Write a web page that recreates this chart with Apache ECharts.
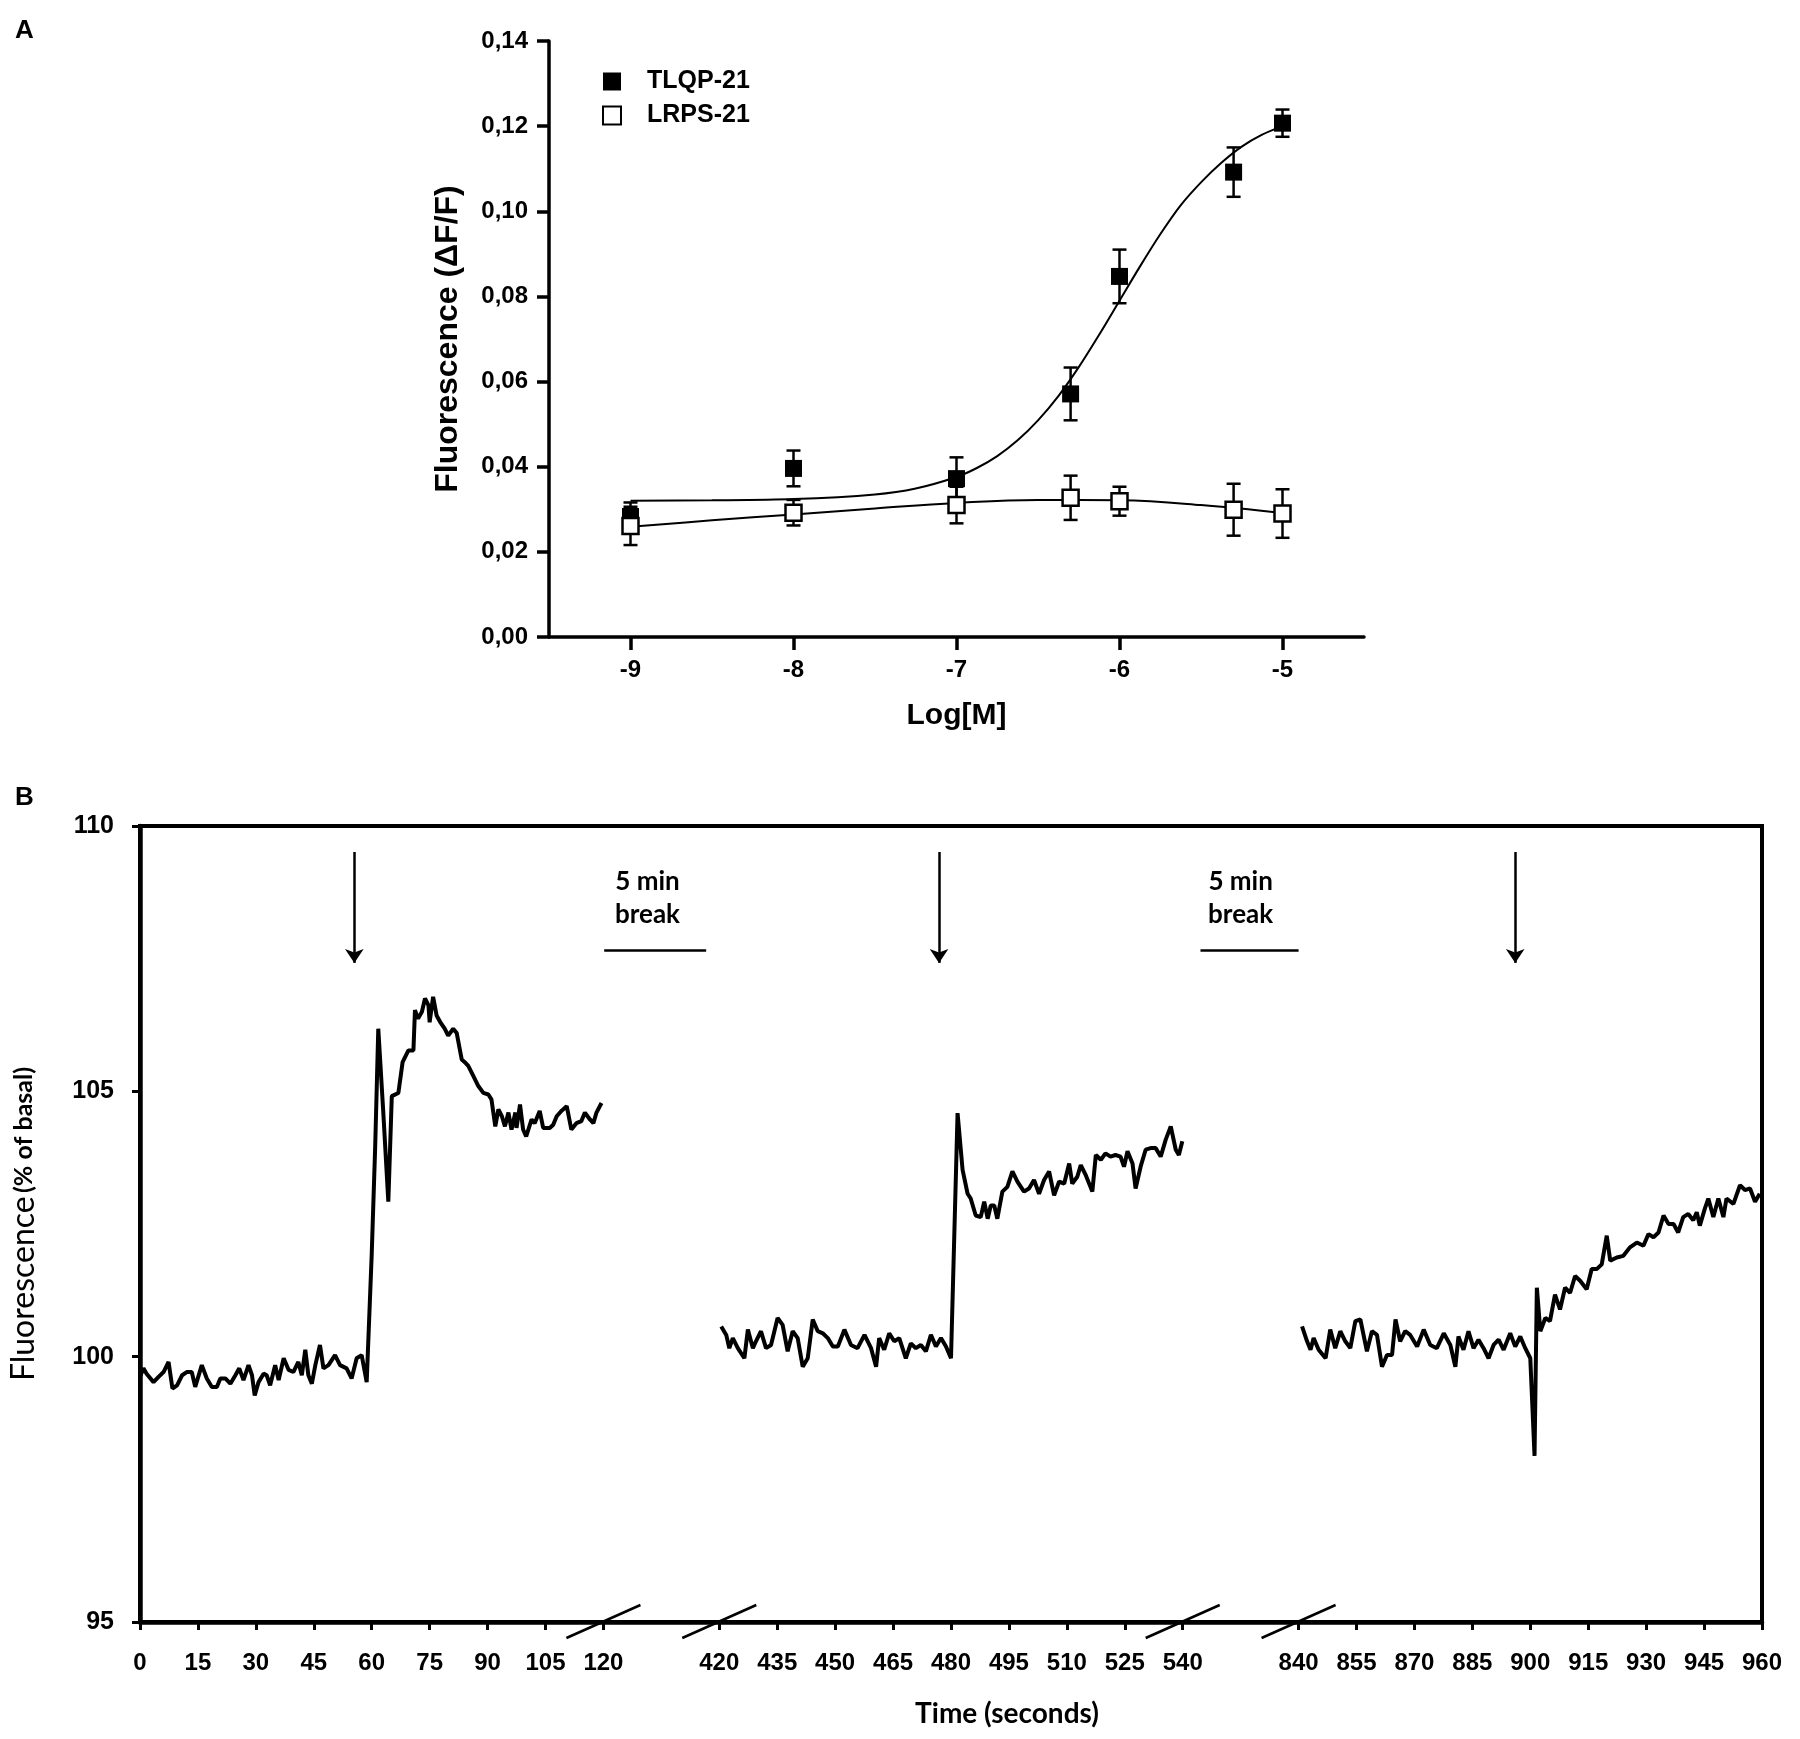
<!DOCTYPE html>
<html>
<head>
<meta charset="utf-8">
<script src="https://cdn.jsdelivr.net/npm/echarts@6/dist/echarts.min.js"></script>
<style>
  html, body { margin: 0; padding: 0; background: #fff; }
  #main { width: 1800px; height: 1739px; }
</style>
</head>
<body>
<div id="main"></div>
<script>
// ---------- Panel A data ----------
const A_logM = [-9, -8, -7, -6.3, -6, -5.3, -5];
const A_tlqp = [0.0283, 0.0396, 0.0372, 0.0571, 0.0847, 0.1092, 0.1207];
const A_tlqpErr = [0.0033, 0.0042, 0.0050, 0.0062, 0.0063, 0.0058, 0.0032];
const A_lrps = [0.0261, 0.0292, 0.0310, 0.0327, 0.0319, 0.0299, 0.0290];
const A_lrpsErr = [0.0045, 0.0030, 0.0043, 0.0052, 0.0034, 0.0061, 0.0057];
// fitted curves
const A_fitTlqpX = [-9, -8.5, -8, -7.5, -7.25, -7, -6.875, -6.75, -6.625, -6.5, -6.375, -6.25, -6.125, -6, -5.875, -5.75, -5.625, -5.5, -5.375, -5.25, -5.125, -5];
const A_fitTlqpY = [0.0320, 0.0321, 0.0324, 0.0335, 0.0349, 0.0376, 0.0397, 0.0425, 0.0462, 0.0509, 0.0566, 0.0634, 0.0710, 0.0790, 0.0870, 0.0946, 0.1014, 0.1068, 0.1114, 0.1152, 0.1180, 0.1200];
const A_fitLrpsX = [-9, -8.5, -8, -7.5, -7, -6.5, -6, -5.5, -5];
const A_fitLrpsY = [0.0259, 0.0274, 0.0288, 0.0302, 0.0315, 0.0322, 0.0321, 0.0310, 0.0291];
const A_xTicks = [-9, -8, -7, -6, -5];

// ---------- Panel B data: [time (s), fluorescence (% of basal)] ----------
const B_seg1 = [
[0,99.62],[0.9,99.78],[1.7,99.68],[3.5,99.52],[4.8,99.62],[6.1,99.71],[7.4,99.90],[8.4,99.40],[9.6,99.46],[10.9,99.65],
[12.1,99.71],[13.4,99.71],[14.3,99.43],[16.0,99.84],[17.3,99.59],[18.6,99.43],[19.9,99.43],[20.8,99.59],[22.1,99.59],[23.4,99.49],
[24.7,99.65],[25.7,99.78],[26.8,99.56],[28.1,99.84],[29.0,99.65],[29.7,99.27],[30.7,99.52],[32.0,99.68],[32.8,99.65],[33.7,99.46],
[35.0,99.84],[35.9,99.56],[37.2,99.97],[38.5,99.75],[39.7,99.71],[41.0,99.90],[41.9,99.65],[42.8,100.13],[43.6,99.65],[44.5,99.49],
[45.4,99.84],[46.6,100.22],[47.5,99.78],[48.8,99.84],[50.5,100.03],[51.8,99.84],[53.5,99.78],[54.8,99.59],[56.1,99.97],[57.4,100.03],
[58.7,99.52],[60.0,101.93],[60.9,103.96],[61.7,106.18],[63.0,104.60],[64.3,102.92],[65.2,104.91],[66.9,104.97],[68.0,105.55],[69.5,105.77],
[70.8,105.77],[71.2,106.53],[72.0,106.37],[73.0,106.50],[73.8,106.75],[74.7,106.62],[75.0,106.30],[75.9,106.78],[76.8,106.43],[77.7,106.31],
[78.9,106.18],[79.8,106.05],[81.1,106.18],[82.0,106.10],[83.3,105.60],[84.1,105.55],[85.0,105.48],[86.3,105.29],[87.6,105.10],[88.9,104.97],
[90.2,104.94],[91.0,104.85],[92.0,104.34],[92.8,104.66],[93.7,104.53],[94.5,104.34],[95.4,104.60],[96.2,104.28],[97.2,104.60],[97.5,104.31],
[98.4,104.75],[99.2,104.28],[100.0,104.15],[101.4,104.47],[102.2,104.40],[103.5,104.63],[104.4,104.31],[106.1,104.31],[107.0,104.37],[107.9,104.53],
[109.1,104.63],[110.5,104.72],[111.7,104.28],[113.0,104.40],[114.3,104.44],[115.2,104.60],[116.5,104.47],[117.4,104.40],[118.2,104.60],[119.5,104.78]
];
const B_seg2 = [
[420.5,100.57],[421.8,100.41],[422.6,100.16],[423.5,100.35],[424.8,100.16],[426.5,99.97],[427.4,100.51],[428.7,100.16],[429.5,100.29],[430.8,100.48],
[432.1,100.16],[433.4,100.22],[435.1,100.73],[436.4,100.60],[437.7,100.10],[439.0,100.48],[440.3,100.35],[441.6,99.81],[442.9,99.97],[444.2,100.70],
[445.5,100.48],[446.8,100.44],[448.1,100.35],[449.4,100.19],[450.7,100.19],[452.4,100.51],[454.1,100.22],[455.8,100.16],[457.6,100.41],[459.3,100.16],
[460.6,99.81],[461.4,100.35],[462.7,100.13],[464.0,100.44],[465.3,100.29],[466.6,100.35],[468.3,99.97],[469.6,100.25],[470.9,100.16],[472.2,100.22],
[473.5,100.10],[474.8,100.41],[476.1,100.19],[477.4,100.35],[478.7,100.19],[480.0,99.97],[481.7,104.59],[483.0,103.52],[484.3,103.07],[485.1,102.98],
[486.4,102.66],[487.7,102.63],[488.6,102.92],[489.5,102.60],[490.3,102.85],[491.2,102.85],[492.0,102.60],[493.3,103.11],[494.6,103.20],[495.9,103.49],
[497.2,103.30],[498.9,103.11],[500.2,103.17],[501.5,103.33],[502.8,103.07],[504.1,103.33],[505.4,103.49],[506.7,103.04],[508.0,103.30],[509.3,103.26],
[510.6,103.64],[511.4,103.26],[512.7,103.39],[513.6,103.61],[514.9,103.42],[516.6,103.11],[517.5,103.80],[518.8,103.71],[520.0,103.83],[521.3,103.77],
[522.6,103.80],[523.9,103.77],[524.8,103.58],[525.7,103.87],[527.0,103.64],[527.8,103.17],[529.1,103.58],[530.4,103.90],[531.7,103.93],[533.0,103.93],
[534.3,103.77],[535.6,104.09],[536.9,104.34],[538.2,103.90],[539.0,103.80],[539.9,104.06]
];
const B_seg3 = [
[840.9,100.57],[842.2,100.29],[843.1,100.13],[843.9,100.35],[845.2,100.13],[847.0,99.97],[848.2,100.51],[849.5,100.16],[850.8,100.48],[852.1,100.29],
[853.4,100.16],[854.7,100.67],[856.0,100.70],[857.7,100.10],[859.0,100.48],[860.3,100.41],[861.6,99.81],[862.9,100.03],[864.2,100.03],[865.1,100.70],
[866.3,100.29],[867.6,100.48],[868.9,100.41],[870.7,100.19],[872.4,100.51],[874.1,100.22],[875.8,100.16],[877.6,100.44],[879.3,100.22],[880.6,99.81],
[881.4,100.38],[882.7,100.13],[884.0,100.48],[885.3,100.16],[886.6,100.32],[887.9,100.16],[889.2,99.97],[890.5,100.22],[891.8,100.32],[893.1,100.13],
[894.8,100.44],[896.1,100.19],[897.4,100.38],[898.7,100.16],[900.0,99.97],[901.1,98.13],[901.7,101.30],[902.6,100.48],[903.9,100.73],[905.1,100.67],
[906.4,101.17],[907.7,100.89],[909.0,101.30],[910.3,101.20],[911.6,101.52],[912.9,101.43],[914.6,101.27],[915.9,101.65],[917.2,101.65],[918.5,101.74],
[919.8,102.28],[920.7,101.81],[922.4,101.87],[924.1,101.90],[925.8,102.06],[927.6,102.15],[929.3,102.09],[930.6,102.31],[931.9,102.25],[933.2,102.34],
[934.5,102.66],[935.8,102.50],[937.1,102.50],[938.3,102.34],[939.6,102.63],[940.9,102.69],[942.2,102.57],[943.1,102.72],[943.9,102.47],[945.2,102.79],
[946.1,102.98],[947.4,102.63],[948.7,102.98],[950.0,102.63],[950.8,102.98],[952.6,102.88],[954.3,103.23],[955.6,103.14],[956.9,103.17],[958.2,102.92],
[959.4,103.07]
];
const B_tickTimes = [0,15,30,45,60,75,90,105,120,420,435,450,465,480,495,510,525,540,840,855,870,885,900,915,930,945,960];
const B_breakEdges = [120, 420, 540, 840];
const B_arrowTimes = [55.5, 476.9, 896.1];

// broken time axis: each 120 s recording window is shown with a 30 s-wide gap
function axisPos(t) {
  if (t <= 120) return t;
  if (t <= 540) return t - 420 + 150;
  return t - 840 + 300;
}
function axisTime(p) {
  if (p <= 120) return p;
  if (p <= 270) return p - 150 + 420;
  return p - 300 + 840;
}

const FONT = 'Liberation Sans';
const chart = echarts.init(document.getElementById('main'));

function errBarItem(params, api) {
  const x = api.value(0), lo = api.value(1), hi = api.value(2);
  const p1 = api.coord([x, lo]), p2 = api.coord([x, hi]);
  const w = 7;
  const st = { stroke: '#000', lineWidth: 2.5 };
  return {
    type: 'group',
    children: [
      { type: 'line', shape: { x1: p1[0], y1: p1[1], x2: p2[0], y2: p2[1] }, style: st },
      { type: 'line', shape: { x1: p1[0] - w, y1: p1[1], x2: p1[0] + w, y2: p1[1] }, style: st },
      { type: 'line', shape: { x1: p2[0] - w, y1: p2[1], x2: p2[0] + w, y2: p2[1] }, style: st }
    ]
  };
}

const arrowLines = B_arrowTimes.map(t => [
  { coord: [axisPos(t), 109.51], symbol: 'none' },
  { coord: [axisPos(t), 107.42], symbol: 'arrow', symbolSize: 14 }
]);
const breakLines = [
  [{ coord: [120.2, 107.66] }, { coord: [146.6, 107.66] }],
  [{ coord: [274.6, 107.66] }, { coord: [300.0, 107.66] }]
];

const option = {
  animation: false,
  backgroundColor: '#fff',
  textStyle: { fontFamily: FONT, color: '#000' },
  title: [
    { text: 'A', left: 10, top: 13, textStyle: { fontFamily: FONT, fontSize: 26, fontWeight: 'bold', color: '#000' } },
    { text: 'B', left: 10, top: 780, textStyle: { fontFamily: FONT, fontSize: 26, fontWeight: 'bold', color: '#000' } }
  ],
  legend: {
    data: ['TLQP-21', 'LRPS-21'],
    orient: 'vertical',
    left: 597, top: 64,
    itemWidth: 18, itemHeight: 18, itemGap: 9,
    selectedMode: false,
    textStyle: { fontFamily: FONT, fontSize: 25, fontWeight: 'bold', color: '#000', padding: [0, 0, 0, 21], lineHeight: 25 }
  },
  grid: [
    { left: 549, top: 41, width: 815, height: 596 },
    { left: 138, top: 826, width: 1624, height: 796, show: true, borderColor: '#000', borderWidth: 4, backgroundColor: 'transparent' }
  ],
  xAxis: [
    {
      gridIndex: 0, type: 'value', min: -9.5, max: -4.5,
      axisLine: { lineStyle: { color: '#000', width: 3.5 } },
      axisTick: { customValues: A_xTicks, length: 13, lineStyle: { color: '#000', width: 3.5 } },
      axisLabel: { customValues: A_xTicks, margin: 21, fontFamily: FONT, fontSize: 24, fontWeight: 'bold', color: '#000' },
      splitLine: { show: false },
      name: 'Log[M]', nameLocation: 'middle', nameGap: 64,
      nameTextStyle: { fontFamily: FONT, fontSize: 30, fontWeight: 'bold', color: '#000' }
    },
    {
      gridIndex: 1, type: 'value', min: 0, max: 420,
      axisLine: { lineStyle: { color: '#000', width: 4.5 } },
      axisTick: { customValues: B_tickTimes.map(axisPos), length: 8, lineStyle: { color: '#000', width: 3 } },
      axisLabel: {
        customValues: B_tickTimes.map(axisPos), margin: 29,
        fontFamily: FONT, fontSize: 24, fontWeight: 'bold', color: '#000',
        formatter: v => String(Math.round(axisTime(v)))
      },
      splitLine: { show: false },
      name: 'Time (seconds)', nameLocation: 'middle', nameGap: 78,
      nameTextStyle: { fontFamily: 'Lato', fontSize: 28, fontWeight: 'bold', color: '#000', padding: [0, 0, 0, 112] }
    }
  ],
  yAxis: [
    {
      gridIndex: 0, type: 'value', min: 0, max: 0.14, interval: 0.02,
      axisLine: { show: true, lineStyle: { color: '#000', width: 3.5 } },
      axisTick: { show: true, length: 12, lineStyle: { color: '#000', width: 3.5 } },
      axisLabel: { margin: 21, fontFamily: FONT, fontSize: 24, fontWeight: 'bold', color: '#000',
        formatter: v => v.toFixed(2).replace('.', ',') },
      splitLine: { show: false },
      name: 'Fluorescence (ΔF/F)', nameLocation: 'middle', nameGap: 85, nameRotate: 90,
      nameTextStyle: { fontFamily: FONT, fontSize: 32, fontWeight: 'bold', color: '#000' }
    },
    {
      gridIndex: 1, type: 'value', min: 95, max: 110, interval: 5,
      axisLine: { show: true, lineStyle: { color: '#000', width: 4.5 } },
      axisTick: { show: true, length: 8, lineStyle: { color: '#000', width: 3 } },
      axisLabel: { margin: 26, fontFamily: FONT, fontSize: 25, fontWeight: 'bold', color: '#000' },
      splitLine: { show: false },
      name: '{a|Fluorescence} {b|(% of basal)}', nameLocation: 'middle', nameGap: 100, nameRotate: 90,
      nameTextStyle: {
        color: '#000',
        rich: {
          a: { fontFamily: 'Lato', fontSize: 32, color: '#000' },
          b: { fontFamily: 'Lato', fontSize: 25, fontWeight: 'bold', color: '#000' }
        }
      }
    }
  ],
  series: [
    {
      name: 'TLQP fit', type: 'line', xAxisIndex: 0, yAxisIndex: 0, silent: true,
      data: A_fitTlqpX.map((x, i) => [x, A_fitTlqpY[i]]),
      smooth: 0.3, showSymbol: false, lineStyle: { color: '#000', width: 2 }, z: 2
    },
    {
      name: 'LRPS fit', type: 'line', xAxisIndex: 0, yAxisIndex: 0, silent: true,
      data: A_fitLrpsX.map((x, i) => [x, A_fitLrpsY[i]]),
      smooth: 0.4, showSymbol: false, lineStyle: { color: '#000', width: 2 }, z: 2
    },
    {
      name: 'TLQP err', type: 'custom', xAxisIndex: 0, yAxisIndex: 0, silent: true, z: 3,
      renderItem: errBarItem,
      data: A_logM.map((x, i) => [x, A_tlqp[i] - A_tlqpErr[i], A_tlqp[i] + A_tlqpErr[i]])
    },
    {
      name: 'LRPS err', type: 'custom', xAxisIndex: 0, yAxisIndex: 0, silent: true, z: 3,
      renderItem: errBarItem,
      data: A_logM.map((x, i) => [x, A_lrps[i] - A_lrpsErr[i], A_lrps[i] + A_lrpsErr[i]])
    },
    {
      name: 'TLQP-21', type: 'scatter', xAxisIndex: 0, yAxisIndex: 0, z: 4,
      symbol: 'rect', symbolSize: 17, itemStyle: { color: '#000', opacity: 1 },
      data: A_logM.map((x, i) => [x, A_tlqp[i]])
    },
    {
      name: 'LRPS-21', type: 'scatter', xAxisIndex: 0, yAxisIndex: 0, z: 5,
      symbol: 'rect', symbolSize: 16, itemStyle: { color: '#fff', borderColor: '#000', borderWidth: 2.5, opacity: 1 },
      data: A_logM.map((x, i) => [x, A_lrps[i]])
    },
    {
      name: 'trace1', type: 'line', xAxisIndex: 1, yAxisIndex: 1, silent: true,
      data: B_seg1.map(d => [axisPos(d[0]), d[1]]),
      showSymbol: false, lineStyle: { color: '#000', width: 4 },
      markLine: {
        silent: true, symbol: ['none', 'none'],
        label: { show: false },
        lineStyle: { color: '#000', width: 2.5, type: 'solid' },
        emphasis: { disabled: true },
        data: arrowLines.concat(breakLines)
      },
      markPoint: {
        silent: true, symbol: 'circle', symbolSize: 1,
        itemStyle: { color: 'rgba(0,0,0,0)' },
        label: { show: true, position: 'inside', formatter: '5 min\nbreak',
          fontFamily: 'Lato', fontSize: 26, fontWeight: 'bold', color: '#000', lineHeight: 33 },
        data: [{ coord: [131.4, 108.65] }, { coord: [285.0, 108.65] }]
      }
    },
    {
      name: 'trace2', type: 'line', xAxisIndex: 1, yAxisIndex: 1, silent: true,
      data: B_seg2.map(d => [axisPos(d[0]), d[1]]),
      showSymbol: false, lineStyle: { color: '#000', width: 4 }
    },
    {
      name: 'trace3', type: 'line', xAxisIndex: 1, yAxisIndex: 1, silent: true,
      data: B_seg3.map(d => [axisPos(d[0]), d[1]]),
      showSymbol: false, lineStyle: { color: '#000', width: 4 }
    },
    {
      name: 'axis breaks', type: 'custom', xAxisIndex: 1, yAxisIndex: 1, silent: true, z: 10,
      renderItem: (params, api) => {
        const p = api.coord([api.value(0), api.value(1)]);
        return { type: 'line', shape: { x1: p[0] - 37, y1: p[1] + 16, x2: p[0] + 37, y2: p[1] - 17 },
          style: { stroke: '#000', lineWidth: 2.5 } };
      },
      data: B_breakEdges.map(t => [axisPos(t), 95])
    }
  ]
};
chart.setOption(option);
</script>
</body>
</html>
